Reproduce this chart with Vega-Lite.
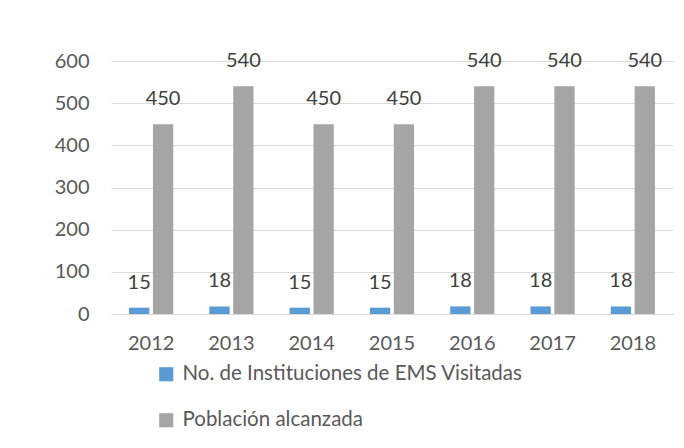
{
  "$schema": "https://vega.github.io/schema/vega-lite/v6.json",
  "width": 562,
  "height": 253,
  "autosize": {"type": "none"},
  "padding": {"left": 111, "top": 61, "right": 11, "bottom": 134},
  "background": "white",
  "config": {
    "view": {"stroke": null},
    "font": "Lato"
  },
  "data": {
    "values": [
      {"year": "2012", "serie": "No. de Instituciones de EMS Visitadas", "valor": 15},
      {"year": "2013", "serie": "No. de Instituciones de EMS Visitadas", "valor": 18},
      {"year": "2014", "serie": "No. de Instituciones de EMS Visitadas", "valor": 15},
      {"year": "2015", "serie": "No. de Instituciones de EMS Visitadas", "valor": 15},
      {"year": "2016", "serie": "No. de Instituciones de EMS Visitadas", "valor": 18},
      {"year": "2017", "serie": "No. de Instituciones de EMS Visitadas", "valor": 18},
      {"year": "2018", "serie": "No. de Instituciones de EMS Visitadas", "valor": 18},
      {"year": "2012", "serie": "Población alcanzada", "valor": 450},
      {"year": "2013", "serie": "Población alcanzada", "valor": 540},
      {"year": "2014", "serie": "Población alcanzada", "valor": 450},
      {"year": "2015", "serie": "Población alcanzada", "valor": 450},
      {"year": "2016", "serie": "Población alcanzada", "valor": 540},
      {"year": "2017", "serie": "Población alcanzada", "valor": 540},
      {"year": "2018", "serie": "Población alcanzada", "valor": 540}
    ]
  },
  "encoding": {
    "x": {
      "field": "year",
      "type": "nominal",
      "scale": {"paddingInner": 0.45, "paddingOuter": 0.225},
      "axis": {
        "title": null,
        "labelAngle": 0,
        "ticks": false,
        "domainColor": "#D9D9D9",
        "labelPadding": 19,
        "labelFontSize": 20,
        "labelColor": "#595959",
        "grid": false
      }
    },
    "xOffset": {
      "field": "serie",
      "type": "nominal",
      "sort": ["No. de Instituciones de EMS Visitadas", "Población alcanzada"],
      "scale": {"paddingInner": 0.15}
    },
    "y": {
      "field": "valor",
      "type": "quantitative",
      "scale": {"domain": [0, 600]},
      "axis": {
        "title": null,
        "values": [0, 100, 200, 300, 400, 500, 600],
        "domain": false,
        "ticks": false,
        "gridColor": "#D9D9D9",
        "labelPadding": 22,
        "labelFontSize": 20,
        "labelColor": "#595959"
      }
    }
  },
  "layer": [
    {
      "mark": {"type": "bar"},
      "encoding": {
        "color": {
          "field": "serie",
          "type": "nominal",
          "sort": ["No. de Instituciones de EMS Visitadas", "Población alcanzada"],
          "scale": {
            "domain": ["No. de Instituciones de EMS Visitadas", "Población alcanzada"],
            "range": ["#5B9BD5", "#A5A5A5"]
          },
          "legend": {
            "title": null,
            "orient": "none",
            "legendX": 45,
            "legendY": 303,
            "direction": "vertical",
            "symbolType": "square",
            "symbolSize": 200,
            "symbolStrokeWidth": 0,
            "labelFontSize": 20.5,
            "labelColor": "#595959",
            "labelOffset": 6,
            "labelLimit": 500,
            "rowPadding": 25
          }
        }
      }
    },
    {
      "mark": {"type": "text", "baseline": "middle", "dy": -25, "fontSize": 20, "color": "#404040"},
      "encoding": {
        "text": {"field": "valor", "type": "quantitative"}
      }
    }
  ]
}
